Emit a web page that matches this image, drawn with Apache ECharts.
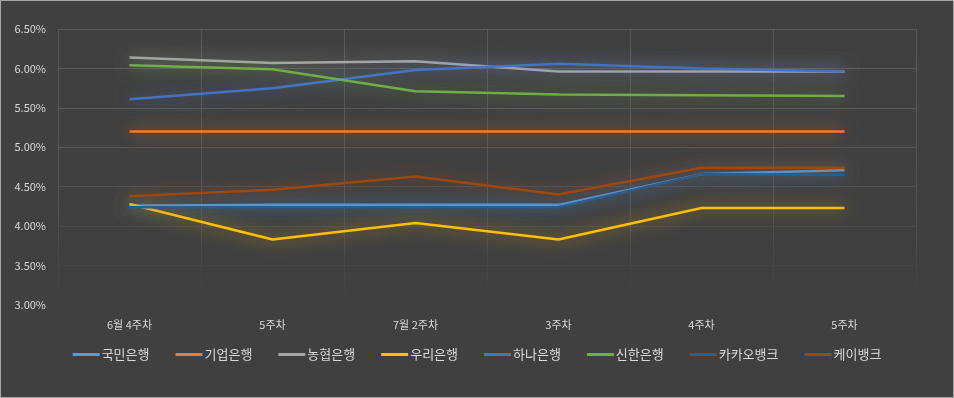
<!DOCTYPE html>
<html>
<head>
<meta charset="utf-8">
<script src="https://cdn.jsdelivr.net/npm/echarts@6/dist/echarts.min.js"></script>
<style>
  html, body { margin: 0; padding: 0; background: #404040; }
  #chart { width: 954px; height: 398px; box-sizing: border-box; border: 1px solid #a6a6a6; }
</style>
</head>
<body>
<div id="chart"></div>
<script>
// 주차 구분
const weeks = ['6월 4주차', '5주차', '7월 2주차', '3주차', '4주차', '5주차']

// 은행별 금리 (%)
const kookmin = [4.26, 4.27, 4.27, 4.27, 4.66, 4.71]
const ibk = [5.20, 5.20, 5.20, 5.20, 5.20, 5.20]
const nonghyup = [6.14, 6.07, 6.09, 5.96, 5.96, 5.96]
const woori = [4.28, 3.83, 4.04, 3.83, 4.23, 4.23]
const hana = [5.61, 5.75, 5.98, 6.06, 6.00, 5.96]
const shinhan = [6.04, 5.99, 5.71, 5.67, 5.66, 5.65]
const kakao = [4.24, 4.24, 4.24, 4.24, 4.66, 4.65]
const kbank = [4.38, 4.46, 4.63, 4.40, 4.74, 4.74]

const seriesList = [
  { name: '국민은행', data: kookmin, color: '#5B9BD5' },
  { name: '기업은행', data: ibk, color: '#ED7D31' },
  { name: '농협은행', data: nonghyup, color: '#A5A5A5' },
  { name: '우리은행', data: woori, color: '#FFC000' },
  { name: '하나은행', data: hana, color: '#4472C4' },
  { name: '신한은행', data: shinhan, color: '#70AD47' },
  { name: '카카오뱅크', data: kakao, color: '#255E91' },
  { name: '케이뱅크', data: kbank, color: '#9E480E' }
]

const myChart = echarts.init(document.getElementById('chart'))
const font = '"Noto Sans CJK KR", "Noto Sans", sans-serif'

// 세로 격자선은 아래로 갈수록 흐려짐
const fadeGrid = {
  type: 'linear', x: 0, y: 28, x2: 0, y2: 300, global: true,
  colorStops: [
    { offset: 0, color: '#5a5a5a' },
    { offset: 0.6, color: '#555555' },
    { offset: 1, color: '#404040' }
  ]
}

const option = {
  backgroundColor: '#404040',
  animation: false,
  textStyle: { fontFamily: font },
  grid: { left: 57, right: 37, top: 28, bottom: 92 },
  legend: {
    bottom: 31,
    left: 'center',
    icon: 'rect',
    itemWidth: 27,
    itemHeight: 3,
    itemGap: 26,
    textStyle: { color: '#d9d9d9', fontSize: 13, fontFamily: font, padding: [0, 0, 0, -3] },
    data: seriesList.map(s => s.name)
  },
  xAxis: {
    type: 'category',
    data: weeks,
    boundaryGap: true,
    axisLine: { show: false },
    axisTick: { show: false },
    axisLabel: { color: '#d9d9d9', fontSize: 11, margin: 14 },
    splitLine: { show: true, lineStyle: { color: fadeGrid, width: 1 } }
  },
  yAxis: {
    type: 'value',
    min: 3,
    max: 6.5,
    interval: 0.5,
    axisLine: { show: false },
    axisTick: { show: false },
    axisLabel: {
      color: '#d9d9d9',
      fontSize: 11,
      margin: 12,
      formatter: v => v.toFixed(2) + '%'
    },
    splitLine: {
      lineStyle: {
        color: ['#404040', '#454545', '#4a4a4a', '#505050', '#575757', '#595959', '#595959', '#595959']
      }
    }
  },
  series: seriesList.map(s => ({
    name: s.name,
    type: 'line',
    data: s.data,
    symbol: 'none',
    color: s.color,
    lineStyle: {
      width: 2.5,
      color: s.color,
      shadowBlur: 16,
      shadowColor: s.color + 'bb'
    }
  }))
}

myChart.setOption(option)
</script>
</body>
</html>
